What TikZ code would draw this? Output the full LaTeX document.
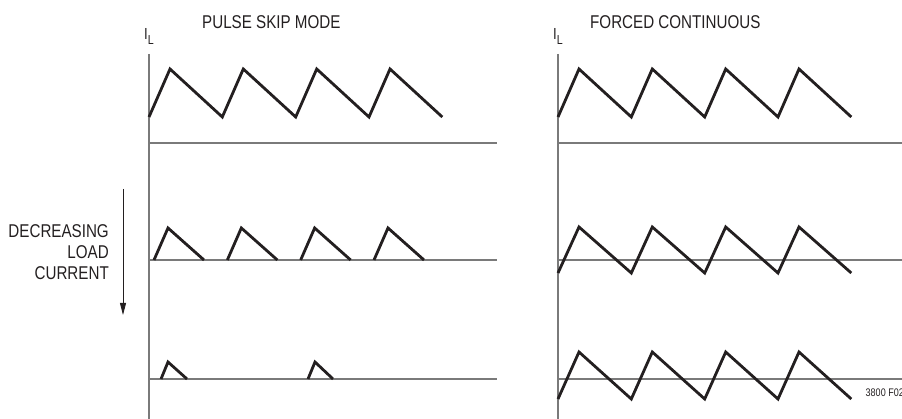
\documentclass[tikz,border=0pt]{standalone}
\usepackage{fontspec}
\setmainfont[FakeStretch=0.82]{Liberation Sans}
\usetikzlibrary{arrows.meta}
\definecolor{axisgray}{HTML}{7A7A7A}
\definecolor{waveblack}{HTML}{231F20}
\tikzset{
  axisline/.style={draw=axisgray, line width=1.2pt},
  wave/.style={draw=waveblack, line width=2.8pt, line join=miter, line cap=butt},
  lbl/.style={inner sep=0pt, text=waveblack, font=\fontsize{18.5}{21}\selectfont},
  ilbl/.style={inner sep=0pt, text=waveblack, anchor=base west, font=\fontsize{16}{18}\selectfont},
  tag/.style={inner sep=0pt, text=waveblack, anchor=base west, font=\fontsize{11}{13}\selectfont},
}
\newcommand{\subL}{\raisebox{-5pt}{\fontsize{13}{15}\selectfont L}}
\begin{document}
\begin{tikzpicture}[x=1pt,y=-1pt]
\useasboundingbox (0,0) rectangle (902,419);
% ---- axes (left) ----
\coordinate (la0) at (149,54);
\coordinate (la1) at (149,419);
\draw[axisline] (la0) -- (la1);
\coordinate (lh1a) at (149,143); \coordinate (lh1b) at (497,143);
\coordinate (lh2a) at (149,260); \coordinate (lh2b) at (497,260);
\coordinate (lh3a) at (149,379); \coordinate (lh3b) at (497,379);
\draw[axisline] (lh1a) -- (lh1b);
\draw[axisline] (lh2a) -- (lh2b);
\draw[axisline] (lh3a) -- (lh3b);
% ---- axes (right) ----
\coordinate (ra0) at (558,54);
\coordinate (ra1) at (558,419);
\draw[axisline] (ra0) -- (ra1);
\coordinate (rh1a) at (558,143); \coordinate (rh1b) at (902,143);
\coordinate (rh2a) at (558,260); \coordinate (rh2b) at (902,260);
\coordinate (rh3a) at (558,379); \coordinate (rh3b) at (902,379);
\draw[axisline] (rh1a) -- (rh1b);
\draw[axisline] (rh2a) -- (rh2b);
\draw[axisline] (rh3a) -- (rh3b);
% ---- left top waveform ----
\draw[wave] (149,117) -- (170,69) -- (222.3,117) -- (243.3,69) -- (295.7,117) -- (316.7,69) -- (369,117) -- (390,69) -- (442.3,117);
% ---- left middle: discontinuous triangles ----
\foreach \k in {0,1,2,3} {
  \draw[wave] ({154+73.33*\k},260) -- ({168+73.33*\k},228) -- ({204+73.33*\k},260);
}
% ---- left bottom: skipped pulses ----
\draw[wave] (161,379) -- (168,362) -- (187,379);
\draw[wave] (308,379) -- (315,362) -- (333,379);
% ---- right waveforms ----
\draw[wave] (558,117) -- (579,69) -- (631.3,117) -- (652.3,69) -- (704.7,117) -- (725.7,69) -- (778,117) -- (799,69) -- (851.3,117);
\draw[wave] (558,273) -- (579,227) -- (631.3,273) -- (652.3,227) -- (704.7,273) -- (725.7,227) -- (778,273) -- (799,227) -- (851.3,273);
\draw[wave] (558,399) -- (579,352) -- (631.3,399) -- (652.3,352) -- (704.7,399) -- (725.7,352) -- (778,399) -- (799,352) -- (851.3,399);
% ---- labels ----
\node[lbl, anchor=base west] (t1) at (202,29) {PULSE SKIP MODE};
\node[lbl, anchor=base west] (t2) at (590,29) {FORCED CONTINUOUS};
\node[ilbl] (il1) at (144,40) {I\subL};
\node[ilbl] (il2) at (553,40) {I\subL};
\node[lbl, anchor=base east] (d1) at (109,238) {DECREASING};
\node[lbl, anchor=base east] (d2) at (109,259) {LOAD};
\node[lbl, anchor=base east] (d3) at (109,280) {CURRENT};
\coordinate (arA) at (123,189);
\coordinate (arB) at (123,315);
\draw[draw=waveblack, line width=0.9pt, -{Triangle[width=6pt,length=12pt]}] (arA) -- (arB);
\node[tag] (f02) at (865.5,396) {3800 F02};
\end{tikzpicture}
\end{document}
